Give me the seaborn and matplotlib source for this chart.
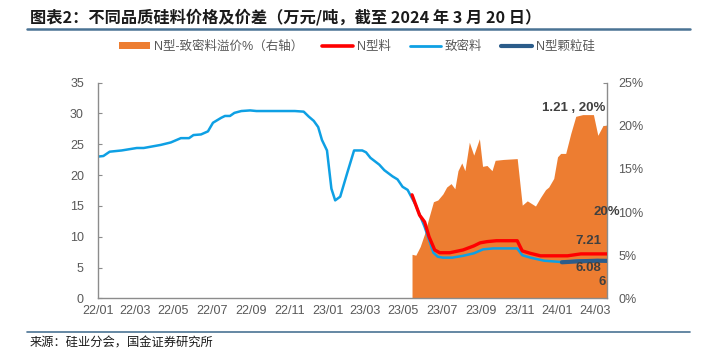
import matplotlib
matplotlib.use("Agg")
import matplotlib.pyplot as plt
from matplotlib.ticker import FuncFormatter, MultipleLocator
from matplotlib.patches import Patch
from matplotlib.lines import Line2D
import seaborn as sns
import pandas as pd

# ---------------- data ----------------
dense_dates = ["2022-01-01", "2022-01-10", "2022-01-20", "2022-02-08", "2022-03-04", "2022-03-15",
               "2022-04-11", "2022-04-27", "2022-05-13", "2022-05-26", "2022-06-02", "2022-06-14",
               "2022-06-25", "2022-07-03", "2022-07-16", "2022-07-22", "2022-07-30", "2022-08-06",
               "2022-08-17", "2022-08-31", "2022-09-10", "2022-11-10", "2022-11-24", "2022-12-02",
               "2022-12-10", "2022-12-17", "2022-12-23", "2022-12-31", "2023-01-07", "2023-01-13",
               "2023-01-21", "2023-02-01", "2023-02-12", "2023-02-25", "2023-03-03", "2023-03-10",
               "2023-03-24", "2023-04-01", "2023-04-14", "2023-04-22", "2023-04-30", "2023-05-08",
               "2023-05-21", "2023-06-04", "2023-06-11", "2023-06-18", "2023-06-25", "2023-07-03",
               "2023-07-18", "2023-08-04", "2023-08-21", "2023-09-05", "2023-09-21", "2023-10-29",
               "2023-11-06", "2023-11-19", "2023-12-11", "2024-01-06", "2024-02-02", "2024-03-05",
               "2024-03-20"]
dense_vals = [23.0, 23.1, 23.8, 24.0, 24.4, 24.4,
              24.9, 25.3, 26.0, 26.0, 26.5, 26.6,
              27.1, 28.5, 29.3, 29.6, 29.6, 30.1,
              30.4, 30.5, 30.4, 30.4, 30.3, 29.5,
              28.8, 27.8, 25.7, 24.0, 17.8, 15.9,
              16.5, 20.3, 24.0, 24.0, 23.7, 22.8,
              21.7, 20.8, 19.8, 19.3, 18.1, 17.6,
              15.1, 11.6, 9.5, 7.4, 6.75, 6.6,
              6.6, 6.9, 7.3, 7.95, 8.1, 8.1,
              7.0, 6.6, 6.1, 5.9, 6.1, 6.2,
              6.0]

ntype_dates = ["2023-05-15", "2023-05-27", "2023-06-04", "2023-06-11", "2023-06-20", "2023-06-28",
               "2023-07-14", "2023-08-04", "2023-08-21", "2023-08-31", "2023-09-11", "2023-09-26",
               "2023-10-29", "2023-11-06", "2023-11-19", "2023-12-05", "2024-01-17", "2024-02-07",
               "2024-03-20"]
ntype_vals = [16.8, 13.5, 12.4, 10.0, 7.85, 7.4,
              7.4, 7.85, 8.5, 9.0, 9.2, 9.35,
              9.35, 7.7, 7.3, 6.9, 6.9, 7.21,
              7.21]

granular_dates = ["2024-01-08", "2024-02-02", "2024-03-05", "2024-03-20"]
granular_vals = [5.85, 6.0, 6.1, 6.08]

premium_dates = ["2023-05-15", "2023-05-21", "2023-05-28", "2023-06-04", "2023-06-11", "2023-06-18",
                 "2023-06-25", "2023-07-03", "2023-07-09", "2023-07-16", "2023-07-22", "2023-07-27",
                 "2023-08-02", "2023-08-07", "2023-08-14", "2023-08-21", "2023-08-30", "2023-09-04",
                 "2023-09-11", "2023-09-19", "2023-09-24", "2023-10-07", "2023-10-29", "2023-11-06",
                 "2023-11-14", "2023-11-27", "2023-12-05", "2023-12-13", "2023-12-18", "2023-12-26",
                 "2024-01-01", "2024-01-06", "2024-01-14", "2024-01-22", "2024-01-30", "2024-02-10",
                 "2024-02-27", "2024-03-05", "2024-03-13", "2024-03-20"]
premium_vals = [5.1, 5.0, 6.0, 7.5, 9.4, 11.2,
                11.4, 12.1, 12.9, 13.3, 12.7, 14.8,
                15.7, 14.8, 18.1, 16.6, 18.5, 15.3,
                15.4, 14.8, 16.0, 16.1, 16.2, 10.8,
                11.3, 10.7, 11.7, 12.6, 12.9, 13.9,
                16.4, 16.8, 16.8, 19.1, 21.1, 21.3,
                21.3, 18.9, 20.0, 20.1]

tick_labels = ["22/01", "22/03", "22/05", "22/07", "22/09", "22/11", "23/01",
               "23/03", "23/05", "23/07", "23/09", "23/11", "24/01", "24/03"]

title = "图表2：不同品质硅料价格及价差（万元/吨，截至 2024 年 3 月 20 日）"
source = "来源：硅业分会，国金证券研究所"
leg_labels = ["N型-致密料溢价%（右轴）", "N型料", "致密料", "N型颗粒硅"]

# ---------------- style ----------------
sns.set_style("white")
plt.rcParams["font.family"] = ["Liberation Sans", "Noto Sans CJK SC", "DejaVu Sans"]

C_ORANGE = "#ED7D31"
C_RED = "#FF0000"
C_BLUE = "#0EA0E4"
C_DARK = "#2B5C8A"
C_TXT = "#595959"
C_AX = "#8C8C8C"

df_dense = pd.DataFrame({"date": pd.to_datetime(dense_dates), "v": dense_vals})
df_n = pd.DataFrame({"date": pd.to_datetime(ntype_dates), "v": ntype_vals})
df_g = pd.DataFrame({"date": pd.to_datetime(granular_dates), "v": granular_vals})
df_p = pd.DataFrame({"date": pd.to_datetime(premium_dates), "v": premium_vals})

fig = plt.figure(figsize=(7.01, 3.54), dpi=100)
ax = fig.add_axes([0.1394, 0.1573, 0.7269, 0.6091])
ax2 = ax.twinx()
ax.set_zorder(ax2.get_zorder() + 1)
ax.patch.set_visible(False)

# area on right axis
ax2.fill_between(df_p["date"], 0, df_p["v"], color=C_ORANGE, linewidth=0)

sns.lineplot(data=df_dense, x="date", y="v", ax=ax, color=C_BLUE, linewidth=1.8)
sns.lineplot(data=df_n, x="date", y="v", ax=ax, color=C_RED, linewidth=2.4)
sns.lineplot(data=df_g, x="date", y="v", ax=ax, color=C_DARK, linewidth=3.0)

xmin = pd.Timestamp(dense_dates[0])
xmax = pd.Timestamp(dense_dates[-1])
ax.set_xlim(xmin, xmax)
ax.set_ylim(0, 35)
ax2.set_ylim(0, 25)
ax.yaxis.set_major_locator(MultipleLocator(5))
ax2.yaxis.set_major_locator(MultipleLocator(5))
ax2.yaxis.set_major_formatter(FuncFormatter(lambda v, p: f"{v:.0f}%"))

tick_pos = pd.date_range("2022-01-01", "2024-03-01", freq="2MS")
ax.set_xticks(tick_pos)
ax.set_xticklabels(tick_labels)
ax.set_xlabel("")
ax.set_ylabel("")

for a in (ax, ax2):
    for s in a.spines.values():
        s.set_visible(False)
ax.spines["left"].set_visible(True)
ax.spines["bottom"].set_visible(True)
ax2.spines["right"].set_visible(True)
for s in (ax.spines["left"], ax.spines["bottom"], ax2.spines["right"]):
    s.set_color(C_AX)
    s.set_linewidth(1.0)

ax.tick_params(axis="x", direction="in", length=3, width=0.8, color=C_AX, colors=C_TXT,
               labelsize=9, pad=5)
ax.tick_params(axis="y", direction="in", length=3, width=0.8, color=C_AX, colors=C_TXT,
               labelsize=9, pad=10)
ax2.tick_params(axis="y", direction="in", length=3, width=0.8, color=C_AX, colors=C_TXT,
                labelsize=9, pad=8)
for lbl in ax.get_xticklabels() + ax.get_yticklabels():
    lbl.set_color(C_TXT)
ax.tick_params(axis="x", color=C_AX)

# data labels
lab_kw = dict(textcoords="offset pixels", fontsize=9.5, fontweight="bold", color="#404040",
              family=["Liberation Sans", "Noto Sans CJK SC"])
ax2.annotate("1.21 , 20%", xy=(df_p["date"].iloc[-1], premium_vals[-1]), xytext=(-2, 17),
             ha="right", va="center", **lab_kw)
ax2.annotate("20%", xy=(df_p["date"].iloc[-1], premium_vals[-1]), xytext=(0, -87),
             ha="center", va="center", **lab_kw)
ax.annotate("7.21", xy=(df_n["date"].iloc[-1], ntype_vals[-1]), xytext=(-19, 13),
            ha="center", va="center", **lab_kw)
ax.annotate("6.08", xy=(df_g["date"].iloc[-1], granular_vals[-1]), xytext=(-19, -7),
            ha="center", va="center", **lab_kw)
ax.annotate("6", xy=(df_dense["date"].iloc[-1], dense_vals[-1]), xytext=(-5, -21),
            ha="center", va="center", **lab_kw)

# legend
handles = [Patch(facecolor=C_ORANGE, edgecolor="none"),
           Line2D([], [], color=C_RED, linewidth=2.6),
           Line2D([], [], color=C_BLUE, linewidth=2.0),
           Line2D([], [], color=C_DARK, linewidth=3.0)]
leg = fig.legend(handles, leg_labels, loc="center", bbox_to_anchor=(357 / 701, 1 - 47 / 354),
                 ncol=4, frameon=False, handlelength=2.5, handleheight=0.5,
                 handletextpad=0.3, columnspacing=1.5,
                 prop={"family": ["Liberation Sans", "Noto Sans CJK SC"], "size": 9})
for t in leg.get_texts():
    t.set_color(C_TXT)

# title & source with rules
fig.text(30 / 701, 1 - 17 / 354, title, ha="left", va="center", fontsize=11.7, fontweight="bold",
         style="italic", color="#1A1A1A", family=["Noto Sans CJK SC", "DejaVu Sans"])
fig.add_artist(Line2D([27 / 701, 690 / 701], [1 - 29 / 354, 1 - 29 / 354], color="#4A7394",
                      linewidth=1.8))
fig.add_artist(Line2D([27 / 701, 690 / 701], [1 - 332 / 354, 1 - 332 / 354], color="#4A7394",
                      linewidth=1.2))
fig.text(30 / 701, 1 - 343 / 354, source, ha="left", va="center", fontsize=8.8,
         color="#1A1A1A", family=["Noto Sans CJK SC", "DejaVu Sans"])

fig.savefig("out.png", dpi=100)
